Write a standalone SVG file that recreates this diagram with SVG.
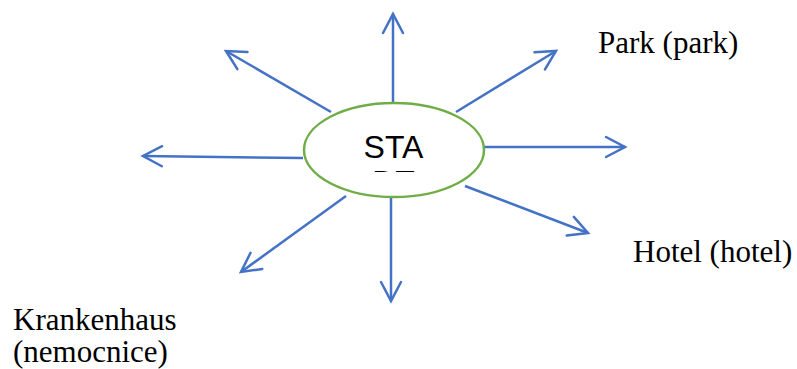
<svg xmlns="http://www.w3.org/2000/svg" width="797" height="369" viewBox="0 0 797 369">
  <style>
    .conn { stroke: #4472C4; stroke-width: 2.5; fill: none; }
    .head { stroke: #4472C4; stroke-width: 2.5; fill: none; stroke-linecap: round; stroke-linejoin: miter; }
    .label { font-family: "Liberation Serif", "Times New Roman", serif; font-size: 31px; fill: #000; }
    .center { font-family: "Liberation Sans", Arial, sans-serif; font-size: 32px; fill: #000; text-anchor: middle; }
  </style>
  <defs>
    <marker id="arrow" markerUnits="userSpaceOnUse" viewBox="-22 -12 26 24" refX="0" refY="0" markerWidth="26" markerHeight="24" orient="auto">
      <path class="head" d="M -19 -10 L 0 0 L -19 10"/>
    </marker>
    <clipPath id="ellClip">
      <rect x="300" y="100" width="200" height="72"/>
    </clipPath>
  </defs>
  <rect width="797" height="369" fill="#fff"/>
  <g id="connectors">
    <line class="conn" x1="393" y1="103" x2="393" y2="14" marker-end="url(#arrow)"/>
    <line class="conn" x1="331" y1="112" x2="226" y2="51" marker-end="url(#arrow)"/>
    <line class="conn" x1="303" y1="158" x2="143" y2="156" marker-end="url(#arrow)"/>
    <line class="conn" x1="456" y1="112" x2="556" y2="51" marker-end="url(#arrow)"/>
    <line class="conn" x1="482" y1="147" x2="625" y2="147" marker-end="url(#arrow)"/>
    <line class="conn" x1="346" y1="196" x2="241" y2="272" marker-end="url(#arrow)"/>
    <line class="conn" x1="391" y1="197" x2="391" y2="301" marker-end="url(#arrow)"/>
    <line class="conn" x1="465" y1="186" x2="588" y2="233" marker-end="url(#arrow)"/>
  </g>
  <g id="node-stadt">
    <ellipse cx="394" cy="150" rx="90" ry="47" fill="#fff" stroke="#70AD47" stroke-width="2.5"/>
    <g clip-path="url(#ellClip)">
      <text class="center" x="393.5" y="157.5">STA</text>
      <text class="center" x="393.5" y="193">DT</text>
    </g>
  </g>
  <g id="node-park">
    <text class="label" x="598" y="53">Park (park)</text>
  </g>
  <g id="node-hotel">
    <text class="label" x="633" y="262">Hotel (hotel)</text>
  </g>
  <g id="node-krankenhaus">
    <text class="label" x="13" y="330">Krankenhaus</text>
    <text class="label" x="13" y="362">(nemocnice)</text>
  </g>
</svg>
